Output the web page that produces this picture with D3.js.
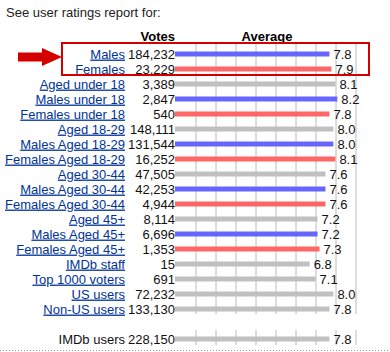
<!DOCTYPE html>
<html>
<head>
<meta charset="utf-8">
<script src="https://cdn.jsdelivr.net/npm/d3@7"></script>
<style>
  body { margin: 0; background: #fff; }
  text { font-family: "Liberation Sans", Arial, sans-serif; font-size: 13px; }
</style>
</head>
<body>
<div id="chart"></div>
<script>
const labels = ["Males", "Females", "Aged under 18", "Males under 18", "Females under 18",
  "Aged 18-29", "Males Aged 18-29", "Females Aged 18-29", "Aged 30-44", "Males Aged 30-44",
  "Females Aged 30-44", "Aged 45+", "Males Aged 45+", "Females Aged 45+", "IMDb staff",
  "Top 1000 voters", "US users", "Non-US users", "IMDb users"];
const votes = [184232, 23229, 3389, 2847, 540, 148111, 131544, 16252, 47505, 42253,
  4944, 8114, 6696, 1353, 15, 691, 72232, 133130, 228150];
const averages = [7.8, 7.9, 8.1, 8.2, 7.8, 8.0, 8.0, 8.1, 7.6, 7.6,
  7.6, 7.2, 7.2, 7.3, 6.8, 7.1, 8.0, 7.8, 7.8];
const groups = ["m", "f", "a", "m", "f", "a", "m", "f", "a", "m",
  "f", "a", "m", "f", "a", "a", "a", "a", "a"];
const gridTicks = [1, 2, 3, 4, 5, 6, 7, 8, 9];

const width = 390, height = 352;
const svg = d3.select("#chart").append("svg")
  .attr("width", width)
  .attr("height", height);

const color = d3.scaleOrdinal()
  .domain(["m", "f", "a"])
  .range(["#6666ff", "#ff6666", "#c0c0c0"]);

// bar scale and the background grid scale
const x = d3.scaleLinear().domain([0, 10]).range([175, 373]);
const xGrid = d3.scaleLinear().domain([0, 10]).range([176, 376]);
const y = d3.scaleLinear().domain([0, 19]).range([54, 339]);

// last row (IMDb users) sits one row lower
const rowPos = i => i < 18 ? i : i + 1;

const rows = labels.map((l, i) => ({
  label: l, votes: votes[i], avg: averages[i], group: groups[i], pos: rowPos(i)
}));

svg.append("text")
  .attr("x", 6).attr("y", 17)
  .attr("fill", "#222")
  .text("See user ratings report for:");

svg.append("text")
  .attr("x", 175).attr("y", 41)
  .attr("text-anchor", "end")
  .attr("font-weight", "bold")
  .text("Votes");

svg.append("text")
  .attr("x", 267).attr("y", 41)
  .attr("text-anchor", "middle")
  .attr("font-weight", "bold")
  .text("Average");

// grid lines, two blocks
const gridBlocks = [[44, 314], [330, 345]];
gridBlocks.forEach(b => {
  svg.append("g")
    .selectAll("line")
    .data(gridTicks)
    .join("line")
    .attr("x1", d => xGrid(d)).attr("x2", d => xGrid(d))
    .attr("y1", b[0]).attr("y2", b[1])
    .attr("stroke", "#bcbcbc")
    .attr("stroke-width", 1);
});

const row = svg.append("g")
  .selectAll("g")
  .data(rows)
  .join("g")
  .attr("transform", d => `translate(0,${y(d.pos)})`);

row.append("rect")
  .attr("x", x(0))
  .attr("y", -2.5)
  .attr("width", d => x(d.avg) - x(0))
  .attr("height", 5)
  .attr("fill", d => color(d.group));

row.append("text")
  .attr("x", 125)
  .attr("dy", "0.35em")
  .attr("text-anchor", "end")
  .attr("fill", d => d.label === "IMDb users" ? "#111" : "#003399")
  .style("text-decoration", d => d.label === "IMDb users" ? "none" : "underline")
  .text(d => d.label);

row.append("text")
  .attr("x", 175)
  .attr("dy", "0.35em")
  .attr("text-anchor", "end")
  .attr("fill", "#111")
  .text(d => d3.format(",")(d.votes));

row.append("text")
  .attr("x", d => x(d.avg) + 4)
  .attr("dy", "0.35em")
  .attr("fill", "#111")
  .text(d => d3.format(".1f")(d.avg));

// highlight box and arrow
svg.append("rect")
  .attr("x", 62).attr("y", 43)
  .attr("width", 307).attr("height", 32)
  .attr("fill", "none")
  .attr("stroke", "#d40000")
  .attr("stroke-width", 2);

svg.append("path")
  .attr("d", "M18,52.5 L42,52.5 L42,48 L62,57 L42,66 L42,61.5 L18,61.5 Z")
  .attr("fill", "#d40000");

// dotted line at bottom
svg.append("line")
  .attr("x1", 0).attr("x2", 388)
  .attr("y1", 350.5).attr("y2", 350.5)
  .attr("stroke", "#999")
  .attr("stroke-dasharray", "1,2");
</script>
</body>
</html>
